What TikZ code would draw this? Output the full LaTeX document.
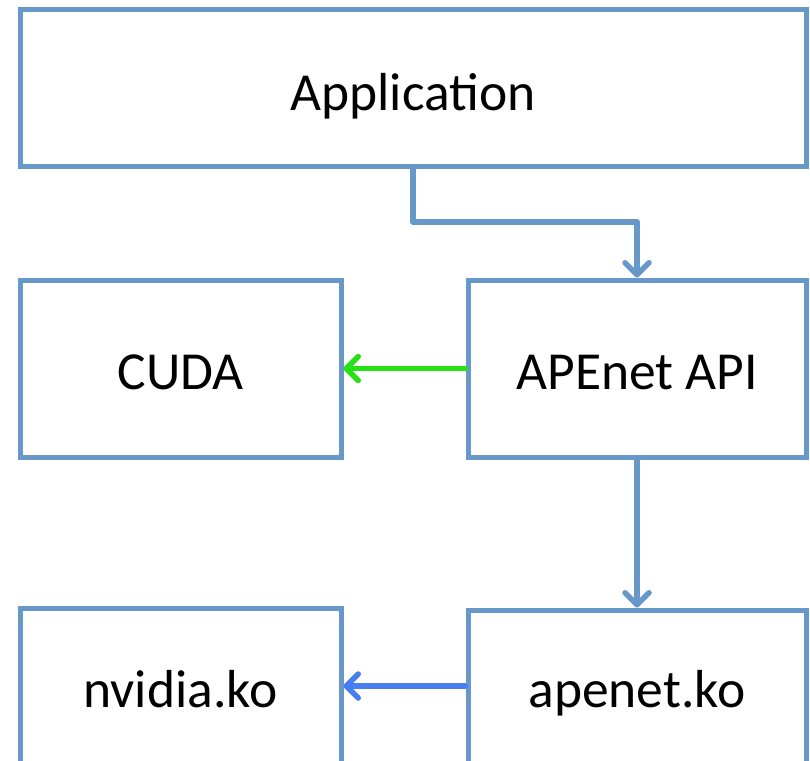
\documentclass[tikz,border=0pt]{standalone}
\usepackage{fontspec}
\setmainfont{Carlito}
\usetikzlibrary{arrows.meta}
\definecolor{boxblue}{RGB}{104,152,202}
\definecolor{arrgreen}{RGB}{36,226,20}
\definecolor{arrblue}{RGB}{72,126,240}
\tikzset{
  box/.style={draw=boxblue, line width=5pt, fill=white, inner sep=0pt, text depth=2pt, font=\fontsize{53.5}{60}\selectfont},
  conn/.style={line width=5.5pt, line cap=round, line join=round, -{Straight Barb[length=12pt,width=24pt,line cap=round,line join=round]}},
}
\begin{document}
\begin{tikzpicture}[x=1pt,y=-1pt]
\useasboundingbox (0,0) rectangle (810,760);
\clip (0,0) rectangle (810,760);
\fill[white] (0,0) rectangle (810,760);
\node[box, text height=46pt, minimum width=786pt, minimum height=156pt] (app) at (413,88) {Application};
\node[box, text height=44pt, minimum width=321pt, minimum height=177pt] (cuda) at (180.5,368.5) {CUDA};
\node[box, text height=43pt, minimum width=338pt, minimum height=177pt] (api) at (637,368.5) {APEnet API};
\node[box, text height=36pt, minimum width=321pt, minimum height=164pt] (nvidia) at (180.5,690) {nvidia.ko};
\node[box, text height=36pt, minimum width=338pt, minimum height=160pt] (apenet) at (637,690) {apenet.ko};
\coordinate (bend) at (413,222);
\draw[conn, draw=boxblue] (app.south) -- (bend) -| (api.north);
\draw[conn, draw=boxblue] (api.south) -- (apenet.north);
\draw[conn, draw=arrgreen] (api.west) -- (cuda.east);
\draw[conn, draw=arrblue] ([yshift=4pt]apenet.west) -- ([yshift=4pt]nvidia.east);
\end{tikzpicture}
\end{document}
